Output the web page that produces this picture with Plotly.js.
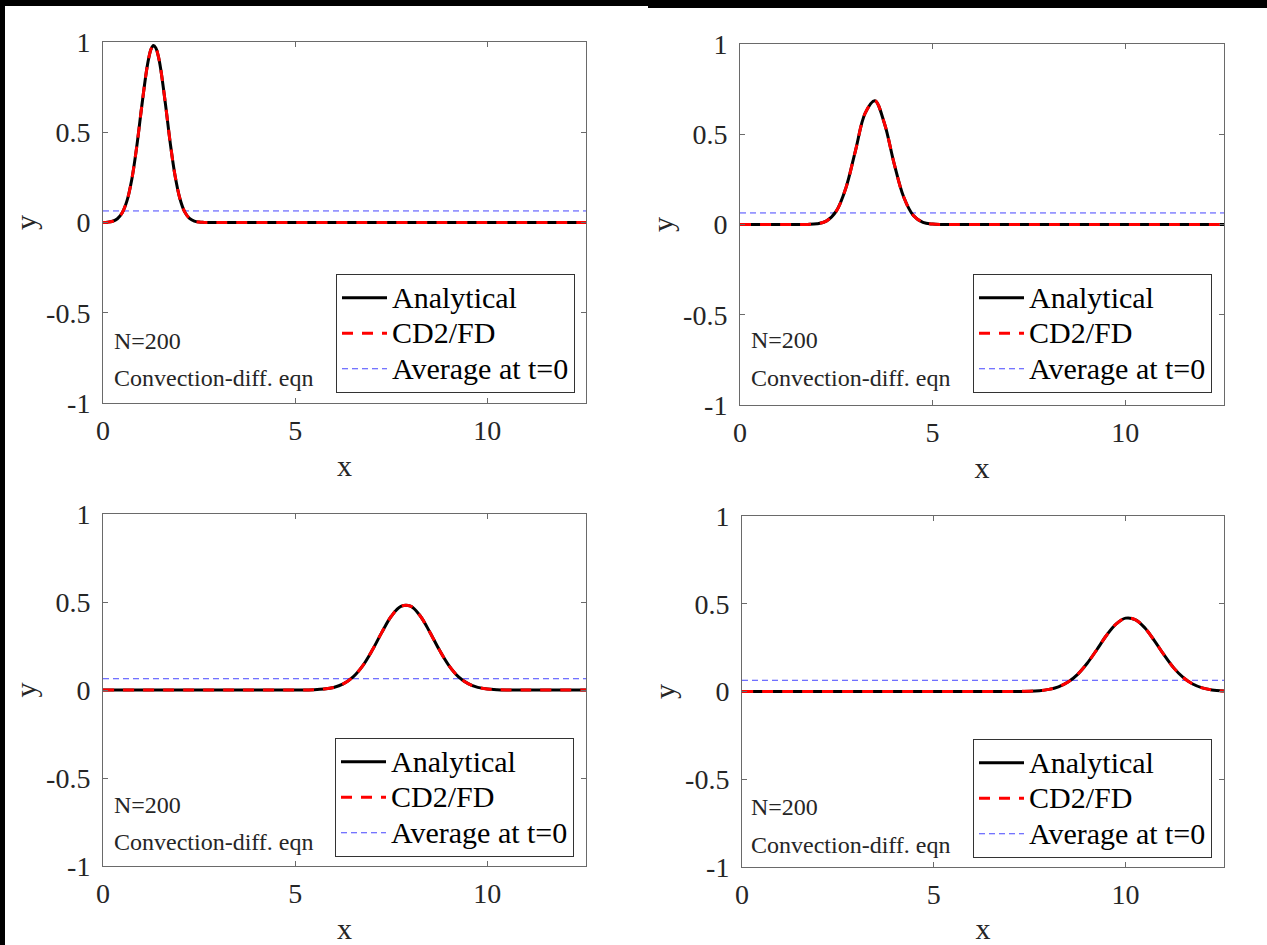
<!DOCTYPE html>
<html>
<head>
<meta charset="utf-8">
<script src="https://cdn.plot.ly/plotly-3.0.1.min.js"></script>
<style>
html,body{margin:0;padding:0;background:#fff;}
#chart{width:1267px;height:945px;}
</style>
</head>
<body>
<div id="chart"></div>
<script>
// ---- data ----
const xMax = 12.566;
const avgLevel = 0.064;

const x1 = [0, 0.125, 0.25, 0.375, 0.5, 0.625, 0.75, 0.875, 1.0, 1.125, 1.1875, 1.25, 1.3125, 1.375, 1.4375, 1.5, 1.625, 1.75, 1.875, 2.0, 2.125, 2.25, 2.375, 2.5, 2.625, 2.75, 3.0, 12.566];
const y1 = [0.0005, 0.002, 0.007, 0.0206, 0.054, 0.121, 0.24, 0.416, 0.63, 0.831, 0.908, 0.96, 0.98, 0.967, 0.923, 0.852, 0.656, 0.44, 0.259, 0.133, 0.059, 0.023, 0.008, 0.0024, 0.0006, 0.0001, 0, 0];

const x2 = [0, 1.5, 1.75, 2.0, 2.25, 2.5, 2.75, 3.0, 3.25, 3.5, 3.75, 4.0, 4.25, 4.5, 4.75, 5.0, 5.25, 5.5, 12.566];
const y2 = [0, 0, 0.0006, 0.004, 0.020, 0.074, 0.203, 0.411, 0.617, 0.686, 0.560, 0.339, 0.152, 0.050, 0.012, 0.0022, 0.0003, 0, 0];

const x3 = [0, 5.0, 5.5, 5.75, 6.0, 6.25, 6.5, 6.75, 7.0, 7.25, 7.5, 7.75, 8.0, 8.25, 8.5, 8.75, 9.0, 9.25, 9.5, 9.75, 10.0, 10.25, 10.5, 11.0, 12.566];
const y3 = [0, 0.0001, 0.0017, 0.0054, 0.0145, 0.0346, 0.073, 0.136, 0.224, 0.326, 0.419, 0.475, 0.476, 0.422, 0.330, 0.228, 0.139, 0.075, 0.036, 0.015, 0.0056, 0.0018, 0.0005, 0, 0];

const x4 = [0, 7.0, 7.5, 7.75, 8.0, 8.25, 8.5, 8.75, 9.0, 9.25, 9.5, 9.75, 10.0, 10.25, 10.5, 10.75, 11.0, 11.25, 11.5, 11.75, 12.0, 12.25, 12.566];
const y4 = [0, 0.0002, 0.0018, 0.0048, 0.012, 0.0268, 0.054, 0.098, 0.161, 0.238, 0.319, 0.384, 0.418, 0.410, 0.363, 0.290, 0.2095, 0.136, 0.080, 0.0425, 0.0203, 0.0088, 0.0026];

const xTicks = [0, 5, 10];
const yTicks = [-1, -0.5, 0, 0.5, 1];
const yTickText = ['-1', '-0.5', '0', '0.5', '1'];
const seriesNames = ['Analytical', 'CD2/FD', 'Average at t=0'];
const noteN = 'N=200';
const noteEqn = 'Convection-diff. eqn';

// ---- build ----
const FONT = 'Liberation Serif, Times New Roman, serif';
const TXT = '#262626';
const W = 1267, H = 945;
const px = v => v / W;
const py = v => 1 - v / H;
const legLabel = s => '<span style="font-size:30px">' + s + '</span>';

const panels = [
  {xs: x1, ys: y1, ax: '', dom: [[103, 586], [42, 403]], leg: [575, 393], note: [112, 341, 378]},
  {xs: x2, ys: y2, ax: '2', dom: [[740, 1224], [44, 405]], leg: [1212, 393], note: [749, 340, 378]},
  {xs: x3, ys: y3, ax: '3', dom: [[103, 586], [514, 866]], leg: [574, 857], note: [112, 805, 842]},
  {xs: x4, ys: y4, ax: '4', dom: [[742, 1224], [516, 867]], leg: [1212, 858], note: [749, 807, 845]}
];

const traces = [];
const layout = {
  width: W, height: H,
  margin: {l: 0, r: 0, t: 0, b: 0},
  paper_bgcolor: '#fff', plot_bgcolor: '#fff',
  font: {family: FONT, color: TXT},
  showlegend: true,
  annotations: [],
  shapes: []
};

panels.forEach((p, i) => {
  const xa = 'x' + p.ax, ya = 'y' + p.ax;
  const legName = i === 0 ? 'legend' : 'legend' + (i + 1);
  traces.push({
    x: [0, xMax], y: [avgLevel, avgLevel], xaxis: xa, yaxis: ya,
    type: 'scatter', mode: 'lines', name: legLabel(seriesNames[2]), legend: legName, legendrank: 3,
    line: {color: 'rgb(70,70,255)', width: 1, dash: '6px,4px'}
  });
  traces.push({
    x: p.xs, y: p.ys, xaxis: xa, yaxis: ya,
    type: 'scatter', mode: 'lines', name: legLabel(seriesNames[0]), legend: legName, legendrank: 1,
    line: {color: '#000', width: 3, shape: 'spline', smoothing: 1}
  });
  traces.push({
    x: p.xs, y: p.ys, xaxis: xa, yaxis: ya,
    type: 'scatter', mode: 'lines', name: legLabel(seriesNames[1]), legend: legName, legendrank: 2,
    line: {color: '#ff0000', width: 3, dash: '11px,9px', shape: 'spline', smoothing: 1}
  });

  const axCommon = {
    showgrid: false, zeroline: false, showline: true, mirror: 'ticks',
    linecolor: '#6a6a6a', linewidth: 1, ticks: 'inside', ticklen: 5, tickcolor: '#6a6a6a',
    tickfont: {family: FONT, size: 28, color: TXT}
  };
  layout['xaxis' + p.ax] = Object.assign({}, axCommon, {
    domain: [px(p.dom[0][0]), px(p.dom[0][1])], range: [0, xMax], anchor: ya,
    tickmode: 'array', tickvals: xTicks, ticktext: xTicks.map(String),
    ticklabelstandoff: 2,
    title: {text: 'x', font: {family: FONT, size: 30, color: TXT}, standoff: 10}
  });
  layout['yaxis' + p.ax] = Object.assign({}, axCommon, {
    domain: [py(p.dom[1][1]), py(p.dom[1][0])], range: [-1, 1], anchor: xa,
    tickmode: 'array', tickvals: yTicks, ticktext: yTickText,
    ticklabelstandoff: 6,
    title: {text: 'y', font: {family: FONT, size: 30, color: TXT}, standoff: 0}
  });
  layout[legName] = {
    x: px(p.leg[0]), y: py(p.leg[1]), xanchor: 'right', yanchor: 'bottom',
    xref: 'paper', yref: 'paper',
    bgcolor: '#fff', bordercolor: '#333', borderwidth: 1,
    font: {family: FONT, size: 25, color: '#000'},
    itemwidth: 45, tracegroupgap: 0
  };
  layout.annotations.push({
    xref: 'paper', yref: 'paper', x: px(p.note[0]), y: py(p.note[1]),
    xanchor: 'left', yanchor: 'middle', showarrow: false, text: noteN,
    font: {family: FONT, size: 24, color: TXT}
  });
  layout.annotations.push({
    xref: 'paper', yref: 'paper', x: px(p.note[0]), y: py(p.note[2]),
    xanchor: 'left', yanchor: 'middle', showarrow: false, text: noteEqn,
    font: {family: FONT, size: 24, color: TXT}
  });
});

// black image frame edges and the clipped strip under the top-left panel
layout.shapes.push(
  {type: 'rect', xref: 'paper', yref: 'paper', x0: px(5), x1: px(647), y0: py(495), y1: py(475), fillcolor: '#fff', line: {width: 0}, layer: 'above'},
  {type: 'rect', xref: 'paper', yref: 'paper', x0: 0, x1: px(648), y0: py(6), y1: 1, fillcolor: '#000', line: {width: 0}, layer: 'above'},
  {type: 'rect', xref: 'paper', yref: 'paper', x0: px(648), x1: 1, y0: py(8), y1: 1, fillcolor: '#000', line: {width: 0}, layer: 'above'},
  {type: 'rect', xref: 'paper', yref: 'paper', x0: 0, x1: px(5), y0: 0, y1: 1, fillcolor: '#000', line: {width: 0}, layer: 'above'}
);

Plotly.newPlot('chart', traces, layout, {displayModeBar: false, staticPlot: true});
</script>
</body>
</html>
